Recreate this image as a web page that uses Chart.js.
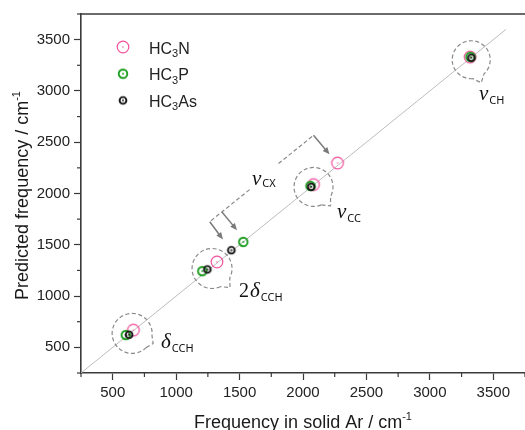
<!DOCTYPE html>
<html>
<head>
<meta charset="utf-8">
<script src="https://cdn.jsdelivr.net/npm/chart.js@4.4.0/dist/chart.umd.min.js"></script>
<style>
  html, body { margin: 0; padding: 0; background: #fff; }
  #wrap { width: 525px; height: 430px; }
</style>
</head>
<body>
<div id="wrap"><canvas id="chart" width="525" height="430"></canvas></div>
<script>
// values (cm-1)
const hc3nX = [663, 1322, 2083, 2272, 3317];
const hc3nY = [668, 1333, 2087, 2297, 3330];
const hc3pX = [603, 1206, 1529, 2059, 3320];
const hc3pY = [620, 1243, 1528, 2074, 3332];
const hc3asX = [629, 1246, 1435, 2065, 3327];
const hc3asY = [623, 1260, 1447, 2064, 3323];
const refLine = [250, 3600];          // y = x guide
const axisMin = 250, axisMax = 3750;
const majorStep = 500, minorStep = 250;

const seriesNames = [['HC', '3', 'N'], ['HC', '3', 'P'], ['HC', '3', 'As']];

// dashed callout circles: center in data units, radius and tail tip in px
const callouts = [
  { x: 3326, y: 3304, r: 19, tip: [10, 23], label: ['ν', 'CH'], lx: 479, ly: 100 },
  { x: 2083, y: 2064, r: 19.5, tip: [17, 19], label: ['ν', 'CC'], lx: 337, ly: 218 },
  { x: 1283, y: 1269, r: 20, tip: [18, 19], label: ['2δ', 'CCH'], lx: 239, ly: 297 },
  { x: 653, y: 636, r: 20, tip: [21, 10], label: ['δ', 'CCH'], lx: 161, ly: 348 }
];

const pts = (xs, ys) => xs.map((x, i) => ({ x, y: ys[i] }));

function ring(color, r, lw, dot) {
  const c = document.createElement('canvas');
  c.width = c.height = 18;
  const g = c.getContext('2d');
  g.strokeStyle = color;
  g.lineWidth = lw;
  g.beginPath(); g.arc(9, 9, r, 0, Math.PI * 2); g.stroke();
  g.fillStyle = color;
  g.beginPath(); g.arc(9, 9, dot, 0, Math.PI * 2); g.fill();
  return c;
}
const styles = [
  ring('#f2509c', 5.8, 1.2, 0.7),
  ring('#1f9e22', 4.3, 1.9, 0.9),
  ring('#151515', 3.4, 1.9, 0.9)
];

function rich(ctx, x, y, parts) {
  parts.forEach(p => {
    ctx.font = p.font;
    ctx.fillText(p.t, x, y + (p.dy || 0));
    x += ctx.measureText(p.t).width + (p.gap || 0);
  });
  return x;
}

function arrow(ctx, x1, y1, x2, y2) {
  const a = Math.atan2(y2 - y1, x2 - x1);
  ctx.setLineDash([]);
  ctx.strokeStyle = '#7a7a7a';
  ctx.fillStyle = '#7a7a7a';
  ctx.lineWidth = 1.5;
  ctx.beginPath(); ctx.moveTo(x1, y1);
  ctx.lineTo(x2 - 5 * Math.cos(a), y2 - 5 * Math.sin(a)); ctx.stroke();
  ctx.beginPath();
  ctx.moveTo(x2, y2);
  ctx.lineTo(x2 - 7 * Math.cos(a) + 3 * Math.sin(a), y2 - 7 * Math.sin(a) - 3 * Math.cos(a));
  ctx.lineTo(x2 - 7 * Math.cos(a) - 3 * Math.sin(a), y2 - 7 * Math.sin(a) + 3 * Math.cos(a));
  ctx.closePath(); ctx.fill();
}

const decor = {
  id: 'decor',
  afterDraw(chart) {
    const { ctx, chartArea: ca, scales: { x, y } } = chart;
    ctx.save();
    // frame top
    ctx.strokeStyle = '#3a3a3a';
    ctx.lineWidth = 1.6;
    ctx.beginPath(); ctx.moveTo(ca.left, ca.top); ctx.lineTo(ca.right, ca.top); ctx.stroke();
    // minor ticks
    ctx.lineWidth = 1.2;
    for (let v = axisMin; v <= axisMax; v += minorStep) {
      if (v % majorStep === 0) continue;
      const px = x.getPixelForValue(v), py = y.getPixelForValue(v);
      ctx.beginPath(); ctx.moveTo(px, ca.bottom); ctx.lineTo(px, ca.bottom + 4); ctx.stroke();
      ctx.beginPath(); ctx.moveTo(ca.left, py); ctx.lineTo(ca.left - 4, py); ctx.stroke();
    }

    // callout circles
    ctx.strokeStyle = '#8a8a8a';
    ctx.lineWidth = 1.2;
    ctx.setLineDash([4, 2.5]);
    callouts.forEach(c => {
      const cx = x.getPixelForValue(c.x), cy = y.getPixelForValue(c.y);
      const phi = Math.atan2(c.tip[1], c.tip[0]);
      ctx.beginPath();
      ctx.arc(cx, cy, c.r, phi + 0.33, phi - 0.33 + Math.PI * 2);
      ctx.lineTo(cx + c.tip[0], cy + c.tip[1]);
      ctx.closePath();
      ctx.stroke();
    });

    // nu_CX brackets (data units)
    const P = (a, b) => [x.getPixelForValue(a), y.getPixelForValue(b)];
    ctx.beginPath();
    let p = P(1807, 2292); ctx.moveTo(p[0], p[1]);
    p = P(2083, 2567); ctx.lineTo(p[0], p[1]);
    ctx.stroke();
    ctx.beginPath();
    p = P(1579, 2038); ctx.moveTo(p[0], p[1]);
    p = P(1265, 1725); ctx.lineTo(p[0], p[1]);
    ctx.stroke();
    let a = P(2083, 2567), b = P(2209, 2382); arrow(ctx, a[0], a[1], b[0], b[1]);
    a = P(1265, 1725); b = P(1369, 1552); arrow(ctx, a[0], a[1], b[0], b[1]);
    a = P(1361, 1820); b = P(1480, 1642); arrow(ctx, a[0], a[1], b[0], b[1]);

    // greek labels
    ctx.fillStyle = '#111';
    ctx.textBaseline = 'alphabetic';
    ctx.textAlign = 'left';
    const gFont = 'italic 21px "Liberation Serif"';
    const sFont = '11px "Noto Sans"';
    callouts.forEach(c => {
      const parts = [];
      if (c.label[0].startsWith('2')) parts.push({ t: '2', font: '20px "Liberation Serif"', gap: 1 });
      parts.push({ t: c.label[0].slice(-1), font: gFont, gap: 1 });
      parts.push({ t: c.label[1], font: sFont, dy: 4 });
      rich(ctx, c.lx, c.ly, parts);
    });
    rich(ctx, 252, 185, [{ t: 'ν', font: gFont, gap: 1 }, { t: 'CX', font: sFont, dy: 2 }]);

    // legend
    chart.data.datasets.slice(0, 3).forEach((ds, i) => {
      const ly = 47 + i * 26.7;
      ctx.drawImage(styles[i], 123 - 9, ly - 9);
      ctx.fillStyle = '#222';
      const n = seriesNames[i];
      rich(ctx, 149, ly + 6.5, [
        { t: n[0], font: '16px "Liberation Sans"' },
        { t: n[1], font: '11px "Liberation Sans"', dy: 3.5 },
        { t: n[2], font: '16px "Liberation Sans"' }
      ]);
    });

    // axis titles
    ctx.fillStyle = '#1a1a1a';
    const tFont = '18px "Liberation Sans"';
    ctx.font = tFont;
    const xt = 'Frequency in solid Ar / cm';
    const xw = ctx.measureText(xt).width;
    ctx.font = '11px "Liberation Sans"';
    const supW = ctx.measureText('-1').width;
    let sx = (ca.left + ca.right) / 2 - (xw + supW) / 2;
    rich(ctx, sx, 428, [{ t: xt, font: tFont }, { t: '-1', font: '11px "Liberation Sans"', dy: -8 }]);
    ctx.save();
    ctx.translate(28, (ca.top + ca.bottom) / 2 + 2);
    ctx.rotate(-Math.PI / 2);
    ctx.font = tFont;
    const yt = 'Predicted frequency / cm';
    const yw = ctx.measureText(yt).width;
    rich(ctx, -(yw + supW) / 2, 0, [{ t: yt, font: tFont }, { t: '-1', font: '11px "Liberation Sans"', dy: -8 }]);
    ctx.restore();
    ctx.restore();
  }
};

const axis = (fit) => ({
  type: 'linear',
  min: axisMin,
  max: axisMax,
  afterFit: fit,
  border: { display: true, color: '#3a3a3a', width: 1.6 },
  grid: {
    drawOnChartArea: false,
    drawTicks: true,
    tickLength: 7,
    tickWidth: 1.2,
    tickColor: c => (c.tick && c.tick.value % majorStep === 0) ? '#3a3a3a' : 'rgba(0,0,0,0)'
  },
  ticks: {
    stepSize: minorStep,
    autoSkip: false,
    maxRotation: 0,
    padding: 4,
    color: '#222',
    font: { family: 'Liberation Sans', size: 15 },
    callback: v => (v % majorStep === 0 ? String(v) : '')
  },
  title: { display: false }
});

new Chart(document.getElementById('chart'), {
  type: 'scatter',
  data: {
    datasets: [
      { label: 'HC3N', data: pts(hc3nX, hc3nY), pointStyle: styles[0], order: 3 },
      { label: 'HC3P', data: pts(hc3pX, hc3pY), pointStyle: styles[1], order: 2 },
      { label: 'HC3As', data: pts(hc3asX, hc3asY), pointStyle: styles[2], order: 1 },
      {
        type: 'line', label: 'ref', data: pts(refLine, refLine), order: 4,
        borderColor: '#bdbdbd', borderWidth: 1, pointRadius: 0, fill: false
      }
    ]
  },
  options: {
    responsive: false,
    animation: false,
    devicePixelRatio: 1,
    layout: { autoPadding: false, padding: { top: 14, right: 0, left: 0, bottom: 0 } },
    plugins: { legend: { display: false }, tooltip: { enabled: false } },
    scales: {
      x: axis(s => { s.height = 57; s.paddingRight = 0; }),
      y: axis(s => { s.width = 81; })
    }
  },
  plugins: [decor]
});
</script>
</body>
</html>
